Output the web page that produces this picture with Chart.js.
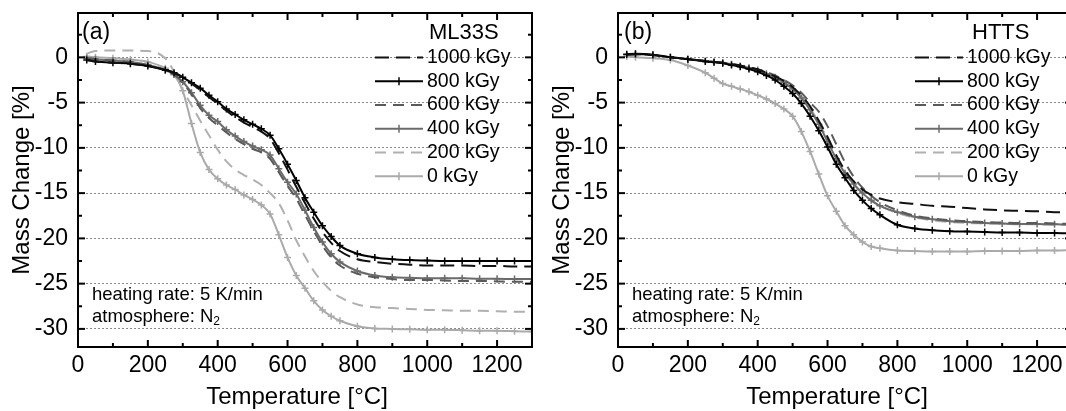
<!DOCTYPE html>
<html>
<head>
<meta charset="utf-8">
<script src="https://cdn.jsdelivr.net/npm/chart.js@4.4.0/dist/chart.umd.min.js"></script>
<style>
  html, body { margin: 0; padding: 0; background: #fff; overflow: hidden; }
  #wrap { position: relative; width: 1066px; height: 411px; overflow: hidden; }
  canvas { position: absolute; top: 0; }
  #chartA { left: 0; }
  #chartB { left: 540px; }
</style>
</head>
<body>
<div id="wrap">
<canvas id="chartA" width="540" height="411"></canvas>
<canvas id="chartB" width="540" height="411"></canvas>
</div>
<script>
// temperature grid [°C] shared by all curves
const temps = [25, 50, 100, 150, 200, 250, 275, 300, 325, 350, 375, 400, 425, 450, 475, 500, 525, 550, 575, 600,
               625, 650, 675, 700, 725, 750, 800, 850, 900, 950, 1000, 1050, 1100, 1150, 1200, 1250, 1300];

const doses = ['1000 kGy', '800 kGy', '600 kGy', '400 kGy', '200 kGy', '0 kGy'];

// (a) ML33S - mass change [%]
const ml1000 = [-0.3, -0.45, -0.6, -0.7, -0.95, -1.4, -1.7, -2.2, -2.9, -3.6, -4.4, -5.1, -5.9, -6.6, -7.2, -7.7, -8.2, -9.0, -10.6, -12.4,
                -14.3, -16.1, -17.8, -19.3, -20.5, -21.4, -22.3, -22.6, -22.8, -22.9, -23.0, -23.0, -23.0, -23.05, -23.05, -23.1, -23.1];
const ml800 = [-0.3, -0.45, -0.6, -0.7, -0.95, -1.4, -1.7, -2.2, -2.8, -3.4, -4.2, -4.9, -5.7, -6.3, -6.9, -7.4, -7.9, -8.6, -10.1, -11.8,
               -13.6, -15.5, -17.1, -18.6, -19.8, -20.8, -21.7, -22.1, -22.3, -22.4, -22.45, -22.5, -22.5, -22.5, -22.5, -22.5, -22.5];
const ml600 = [-0.1, -0.2, -0.35, -0.5, -0.85, -1.4, -1.9, -2.8, -4.1, -5.6, -6.7, -7.5, -8.3, -9.0, -9.6, -10.1, -10.5, -11.2, -12.7, -14.2,
               -15.6, -17.4, -19.2, -20.8, -22.1, -23.0, -23.9, -24.3, -24.5, -24.6, -24.6, -24.65, -24.7, -24.7, -24.75, -24.8, -24.8];
const ml400 = [-0.1, -0.2, -0.35, -0.5, -0.85, -1.4, -1.9, -2.7, -3.9, -5.3, -6.4, -7.1, -8.0, -8.7, -9.3, -9.8, -10.2, -10.8, -12.3, -13.8,
               -15.1, -16.9, -18.8, -20.4, -21.7, -22.6, -23.6, -24.1, -24.3, -24.35, -24.4, -24.4, -24.4, -24.45, -24.45, -24.5, -24.5];
const ml200 = [0.4, 0.7, 0.75, 0.75, 0.7, -0.1, -1.6, -3.6, -5.3, -7.0, -8.6, -10.2, -11.5, -12.4, -13.0, -13.5, -14.1, -15.0, -16.1, -18.0,
               -20.2, -22.0, -23.6, -24.8, -25.8, -26.5, -27.3, -27.6, -27.7, -27.8, -27.9, -27.95, -28.0, -28.0, -28.05, -28.1, -28.1];
const ml0 = [0.1, 0.0, -0.1, -0.25, -0.5, -1.2, -1.9, -3.7, -7.3, -10.5, -12.4, -13.4, -14.1, -14.6, -15.2, -15.7, -16.3, -17.3, -19.6, -22.1,
             -24.1, -25.5, -26.9, -27.9, -28.6, -29.1, -29.7, -29.95, -30.0, -30.05, -30.1, -30.1, -30.15, -30.2, -30.2, -30.25, -30.3];

// (b) HTTS - mass change [%]
const ht1000 = [0.3, 0.35, 0.25, 0.0, -0.2, -0.4, -0.5, -0.6, -0.75, -0.9, -1.1, -1.35, -1.7, -2.1, -2.6, -3.3, -4.2, -5.4, -7.0, -8.8,
                -10.8, -12.5, -13.7, -14.6, -15.2, -15.6, -16.0, -16.2, -16.4, -16.5, -16.65, -16.8, -16.9, -16.95, -17.0, -17.1, -17.1];
const ht800 = [0.35, 0.4, 0.3, 0.0, -0.2, -0.45, -0.55, -0.65, -0.85, -1.05, -1.3, -1.6, -2.0, -2.5, -3.2, -4.0, -5.1, -6.5, -8.1, -9.9,
               -11.8, -13.3, -14.7, -15.8, -16.7, -17.4, -18.5, -18.9, -19.1, -19.2, -19.25, -19.3, -19.35, -19.35, -19.4, -19.4, -19.45];
const ht600 = [0.3, 0.35, 0.25, 0.0, -0.2, -0.4, -0.5, -0.6, -0.75, -0.9, -1.1, -1.3, -1.6, -2.0, -2.5, -3.1, -3.9, -5.0, -6.0, -7.6,
               -9.6, -11.6, -13.2, -14.4, -15.3, -16.0, -16.9, -17.5, -17.8, -18.0, -18.1, -18.2, -18.25, -18.3, -18.3, -18.35, -18.4];
const ht400 = [0.3, 0.35, 0.25, 0.0, -0.2, -0.4, -0.5, -0.6, -0.75, -0.95, -1.15, -1.4, -1.8, -2.2, -2.8, -3.5, -4.5, -5.8, -7.4, -9.3,
               -11.2, -12.8, -14.0, -15.0, -15.8, -16.4, -17.1, -17.6, -17.9, -18.1, -18.2, -18.3, -18.35, -18.4, -18.4, -18.45, -18.5];
const ht200 = [0.3, 0.35, 0.25, 0.0, -0.2, -0.4, -0.5, -0.6, -0.75, -0.95, -1.15, -1.4, -1.75, -2.15, -2.7, -3.4, -4.3, -5.6, -7.2, -9.0,
               -11.0, -12.7, -14.0, -15.0, -15.8, -16.4, -17.2, -17.7, -18.0, -18.2, -18.3, -18.35, -18.4, -18.45, -18.45, -18.5, -18.5];
const ht0 = [0.1, 0.0, -0.1, -0.3, -0.9, -1.7, -2.3, -2.9, -3.2, -3.5, -3.8, -4.2, -4.6, -5.1, -5.7, -6.5, -8.2, -10.4, -12.9, -15.3,
             -17.0, -18.6, -19.6, -20.4, -20.9, -21.1, -21.35, -21.4, -21.45, -21.45, -21.45, -21.4, -21.4, -21.4, -21.35, -21.35, -21.3];

// axis ticks
const xTicks = [0, 200, 400, 600, 800, 1000, 1200];
const xMinor = [100, 300, 500, 700, 900, 1100];
const yTicks = [-30, -25, -20, -15, -10, -5, 0];
const yMinor = [-27.5, -22.5, -17.5, -12.5, -7.5, -2.5, 2.5];

const family = '"Liberation Sans", Arial, sans-serif';

// line look per dose: colour, dash, + markers
const looks = [
    { color: '#111111', dash: [14, 7], marks: false },
    { color: '#000000', dash: [], marks: true },
    { color: '#5a5a5a', dash: [11, 7], marks: false },
    { color: '#6b6b6b', dash: [], marks: true },
    { color: '#b0b0b0', dash: [11, 7], marks: false },
    { color: '#aaaaaa', dash: [], marks: true }
];

// frame with inward ticks on all four sides, drawn over the curves
const framePlugin = {
    id: 'frame',
    afterDatasetsDraw(chart) {
        const { ctx, chartArea: a, scales: { x, y } } = chart;
        ctx.save();
        ctx.strokeStyle = '#000';
        ctx.setLineDash([]);
        ctx.lineWidth = 2;
        ctx.strokeRect(a.left, a.top, a.right - a.left, a.bottom - a.top);
        const seg = (x1, y1, x2, y2) => { ctx.beginPath(); ctx.moveTo(x1, y1); ctx.lineTo(x2, y2); ctx.stroke(); };
        const xs = (vals, len) => vals.forEach(v => {
            const px = x.getPixelForValue(v);
            seg(px, a.bottom, px, a.bottom - len);
            seg(px, a.top, px, a.top + len);
        });
        const ys = (vals, len) => vals.forEach(v => {
            const py = y.getPixelForValue(v);
            seg(a.left, py, a.left + len, py);
            seg(a.right, py, a.right - len, py);
        });
        xs(xTicks, 7); xs(xMinor, 4);
        ys(yTicks, 7); ys(yMinor, 4);
        ctx.restore();
    }
};

// in-plot legend, panel label, x title and the measuring conditions
const notesPlugin = {
    id: 'notes',
    afterDraw(chart, args, opts) {
        const { ctx, chartArea: a } = chart;
        ctx.save();
        ctx.fillStyle = '#000';
        ctx.textBaseline = 'middle';
        ctx.textAlign = 'left';
        ctx.font = '23px ' + family;
        ctx.fillText(opts.panel, a.left + opts.panelDx, a.top + 20);
        ctx.font = '22px ' + family;
        ctx.fillText(opts.sample, a.left + opts.sampleDx, a.top + 20);

        ctx.font = '19.5px ' + family;
        chart.data.datasets.forEach((ds, i) => {
            const yy = a.top + 44.5 + i * 23.75;
            const x1 = a.left + 297, x2 = a.left + 345;
            ctx.strokeStyle = ds.borderColor;
            ctx.lineWidth = ds.borderWidth;
            ctx.setLineDash(ds.borderDash);
            ctx.beginPath(); ctx.moveTo(x1, yy); ctx.lineTo(x2, yy); ctx.stroke();
            ctx.setLineDash([]);
            if (ds.pointRadius > 0) {
                const xm = (x1 + x2) / 2;
                ctx.lineWidth = 1.5;
                ctx.beginPath(); ctx.moveTo(xm, yy - 4); ctx.lineTo(xm, yy + 4); ctx.stroke();
            }
            ctx.fillText(ds.label, a.left + 349, yy);
        });

        ctx.font = '18.5px ' + family;
        ctx.fillText('heating rate: 5 K/min', a.left + 14, a.top + 282);
        const t = 'atmosphere: N';
        ctx.fillText(t, a.left + 14, a.top + 303.5);
        const w = ctx.measureText(t).width;
        ctx.font = '12px ' + family;
        ctx.fillText('2', a.left + 14 + w, a.top + 309);

        // x axis title, sits a little left of the plot centre in the original
        ctx.font = '24px ' + family;
        ctx.textAlign = 'center';
        ctx.fillText('Temperature [°C]', a.left + 219, 397);
        ctx.restore();
    }
};

function buildChart(id, series, panel, sample, panelDx, sampleDx) {
    const datasets = series.map((vals, i) => ({
        label: doses[i],
        data: temps.map((t, k) => ({ x: t, y: vals[k] })),
        borderColor: looks[i].color,
        backgroundColor: looks[i].color,
        borderWidth: 2,
        borderDash: looks[i].dash,
        cubicInterpolationMode: 'monotone',
        pointStyle: 'cross',
        pointRadius: looks[i].marks ? 3.5 : 0,
        pointBorderWidth: 1.5,
        pointBorderColor: looks[i].color,
        fill: false
    }));

    return new Chart(document.getElementById(id), {
        type: 'line',
        data: { datasets },
        plugins: [framePlugin, notesPlugin],
        options: {
            responsive: false,
            devicePixelRatio: 1,
            animation: false,
            layout: { padding: { top: 13, right: 8, left: 0, bottom: 0 } },
            plugins: {
                legend: { display: false },
                tooltip: { enabled: false },
                notes: { panel, sample, panelDx, sampleDx }
            },
            scales: {
                x: {
                    type: 'linear',
                    min: 0,
                    max: 1300,
                    afterBuildTicks: s => { s.ticks = xTicks.map(v => ({ value: v })); },
                    afterFit: s => { s.height = 64; s.paddingLeft = 0; s.paddingRight = 0; },
                    grid: { display: false, drawTicks: false },
                    border: { display: false },
                    ticks: {
                        padding: 5,
                        color: '#000',
                        maxRotation: 0,
                        autoSkip: false,
                        font: { size: 23, family },
                        callback: v => String(v)
                    },
                    title: { display: false }
                },
                y: {
                    type: 'linear',
                    min: -32,
                    max: 4.9,
                    afterBuildTicks: s => { s.ticks = yTicks.map(v => ({ value: v })); },
                    afterFit: s => { s.width = 78; s.paddingTop = 0; s.paddingBottom = 0; },
                    grid: { color: '#8a8a8a', lineWidth: 1, drawTicks: false },
                    border: { display: false, dash: [2, 2] },
                    ticks: {
                        padding: 10,
                        color: '#000',
                        font: { size: 23, family },
                        callback: v => String(v)
                    },
                    title: {
                        display: true,
                        text: 'Mass Change [%]',
                        color: '#000',
                        font: { size: 24, family, lineHeight: 1 },
                        padding: { top: 10, bottom: 0 }
                    }
                }
            }
        }
    });
}

buildChart('chartA', [ml1000, ml800, ml600, ml400, ml200, ml0], '(a)', 'ML33S', 4, 351);
buildChart('chartB', [ht1000, ht800, ht600, ht400, ht200, ht0], '(b)', 'HTTS', 6, 354);
</script>
</body>
</html>
